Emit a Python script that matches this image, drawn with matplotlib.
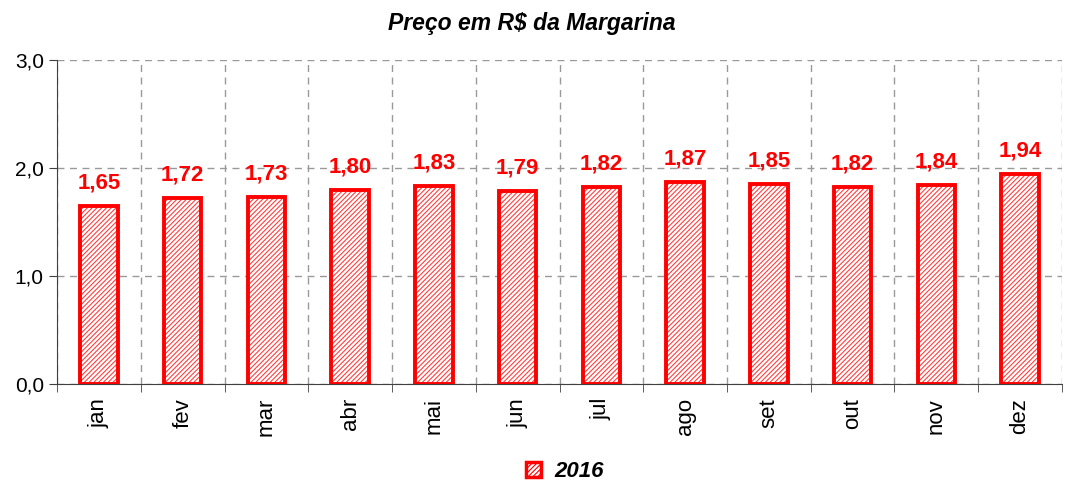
import matplotlib.pyplot as plt
import numpy as np
from matplotlib.patches import Patch

plt.rcParams['font.family'] = ['Liberation Sans', 'DejaVu Sans']
plt.rcParams['hatch.linewidth'] = 0.8

meses = ["jan", "fev", "mar", "abr", "mai", "jun", "jul", "ago", "set", "out", "nov", "dez"]
precos = [1.65, 1.72, 1.73, 1.80, 1.83, 1.79, 1.82, 1.87, 1.85, 1.82, 1.84, 1.94]
serie = "2016"

fig = plt.figure(figsize=(10.7, 4.84), dpi=100)
ax = fig.add_axes([0.0533, 0.2066, 0.9392, 0.6694])

x = np.arange(len(meses))
# hachura fina + contorno grosso
ax.bar(x, precos, width=0.45, color="white", edgecolor="#ff4040",
       hatch="///////", linewidth=0, zorder=3)
ax.bar(x, precos, width=0.45, color="none", edgecolor="#ff0000",
       linewidth=2.8, zorder=4)

for xi, v in zip(x, precos):
    ax.annotate(f"{v:.2f}".replace(".", ","), (xi, v), xytext=(0, 9),
                textcoords="offset points", ha="center", va="bottom",
                color="#ff0000", fontsize=16, fontweight="bold")

ax.set_xlim(-0.5, len(meses) - 0.5)
ax.set_ylim(0, 3)
ax.set_yticks([0, 1, 2, 3])
ax.set_yticklabels(["0,0", "1,0", "2,0", "3,0"], fontsize=15)
ax.set_xticks(x)
ax.set_xticklabels(meses, rotation=90, fontsize=16)
ax.tick_params(axis="x", which="major", length=0, pad=10)
ax.set_xticks(np.arange(-0.5, len(meses)), minor=True)
ax.tick_params(axis="x", which="minor", length=6, direction="out", color="#404040")
ax.tick_params(axis="y", length=6, color="#404040")

ax.grid(axis="y", which="major", linestyle=(0, (5, 4)), color="#999999", linewidth=1)
ax.grid(axis="x", which="minor", linestyle=(0, (5, 4)), color="#999999", linewidth=1)
ax.set_axisbelow(True)

ax.spines["top"].set_visible(False)
ax.spines["right"].set_visible(False)
ax.spines["left"].set_color("#404040")
ax.spines["bottom"].set_color("#404040")

fig.text(0.497, 0.952, "Preço em R$ da Margarina", fontsize=16.5, fontweight="bold",
         fontstyle="italic", ha="center", va="center")

handle = Patch(facecolor="white", edgecolor="#ff0000", hatch="///////", linewidth=2.5)
fig.legend([handle], [serie], loc="center", bbox_to_anchor=(0.528, 0.025),
           frameon=False, prop={"size": 16, "weight": "bold", "style": "italic"},
           handlelength=0.7, handleheight=0.7, handletextpad=0.6)

fig.savefig("out.png", dpi=100)
